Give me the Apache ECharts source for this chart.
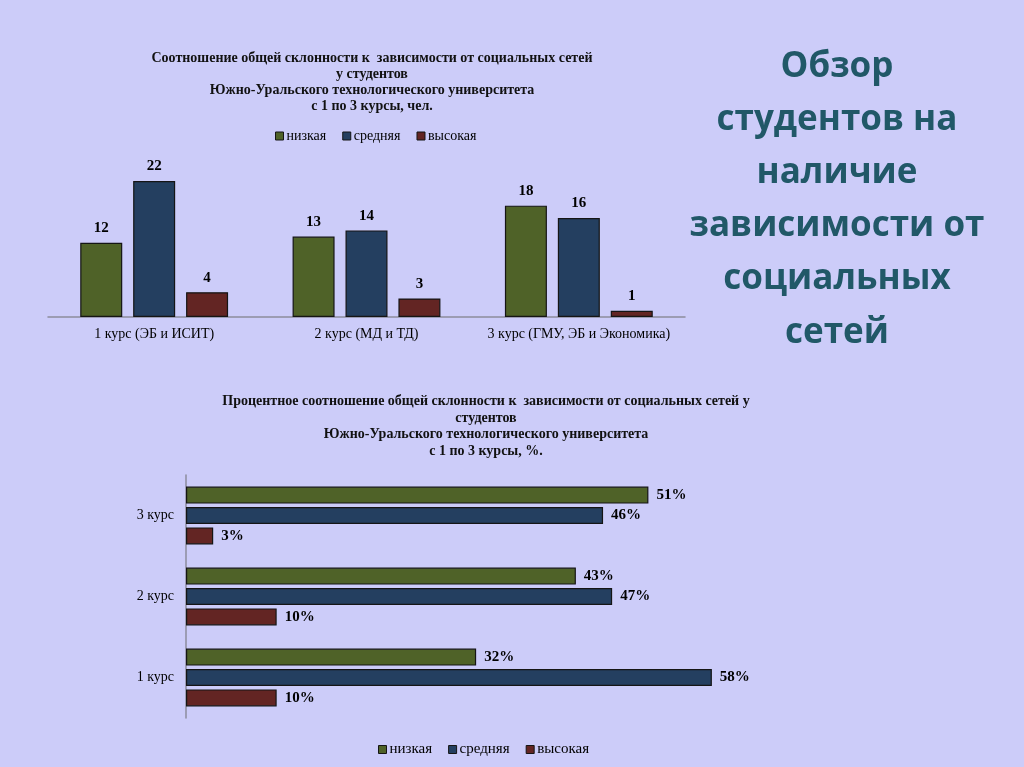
<!DOCTYPE html>
<html>
<head>
<meta charset="utf-8">
<script src="https://cdn.jsdelivr.net/npm/echarts@6/dist/echarts.min.js"></script>
<style>
html,body{margin:0;padding:0;background:#ccccf9;}
#main{width:1024px;height:767px;}
</style>
</head>
<body>
<div id="main"></div>
<script>
// ---- data ----
const seriesNames = ['низкая', 'средняя', 'высокая'];
const groupCategories = ['1 курс (ЭБ и ИСИТ)', '2 курс (МД и ТД)', '3 курс (ГМУ, ЭБ и Экономика)'];
const countLow = [12, 13, 18];
const countMid = [22, 14, 16];
const countHigh = [4, 3, 1];
const courseCategories = ['1 курс', '2 курс', '3 курс'];
const pctLow = [32, 43, 51];
const pctMid = [58, 47, 46];
const pctHigh = [10, 10, 3];
const topTitle = 'Соотношение общей склонности к  зависимости от социальных сетей\nу студентов\nЮжно-Уральского технологического университета\nс 1 по 3 курсы, чел.';
const bottomTitle = 'Процентное соотношение общей склонности к  зависимости от социальных сетей у\nстудентов\nЮжно-Уральского технологического университета\nс 1 по 3 курсы, %.';
const sideTitle = 'Обзор\nстудентов на\nналичие\nзависимости от\nсоциальных\nсетей';

const colors = ['#4f6228', '#243f60', '#632523'];
const serif = '"Liberation Serif", "Times New Roman", serif';

const chart = echarts.init(document.getElementById('main'));

function barStyle(i) {
  return { color: colors[i], borderColor: '#151515', borderWidth: 1.2 };
}

const topSeries = [countLow, countMid, countHigh].map((d, i) => ({
  name: seriesNames[i], type: 'bar', xAxisIndex: 0, yAxisIndex: 0,
  data: d, barWidth: 42, barGap: '26%',
  itemStyle: barStyle(i),
  label: { show: true, position: 'top', distance: 7, fontFamily: serif, fontWeight: 'bold', fontSize: 15, color: '#000' }
}));
const botSeries = [pctLow, pctMid, pctHigh].map((d, i) => ({
  name: seriesNames[i], type: 'bar', xAxisIndex: 1, yAxisIndex: 1,
  data: d, barWidth: 17, barGap: '20%',
  itemStyle: barStyle(i),
  label: { show: true, position: 'right', distance: 8, formatter: '{c}%', fontFamily: serif, fontWeight: 'bold', fontSize: 15, color: '#000' }
}));

chart.setOption({
  backgroundColor: '#ccccf9',
  animation: false,
  title: [
    { text: topTitle, left: 367, top: 45, textAlign: 'center',
      textStyle: { fontFamily: serif, fontWeight: 'bold', fontSize: 14, lineHeight: 16, color: '#111', align: 'center' } },
    { text: bottomTitle, left: 481, top: 388, textAlign: 'center',
      textStyle: { fontFamily: serif, fontWeight: 'bold', fontSize: 14, lineHeight: 16.7, color: '#111', align: 'center' } },
    { text: sideTitle, left: 832, top: 35, textAlign: 'center',
      textStyle: { fontFamily: '"Open Sans", "Noto Sans", sans-serif', fontWeight: 'bold', fontSize: 35, lineHeight: 53.2, color: '#215868', align: 'center' } }
  ],
  legend: [
    { data: seriesNames, top: 124, left: 270, itemWidth: 8, itemHeight: 8, itemGap: 16, icon: 'rect',
      itemStyle: { borderColor: '#151515', borderWidth: 1 },
      textStyle: { fontFamily: serif, fontSize: 14, color: '#000', padding: [0, 0, 0, -2] } },
    { data: seriesNames, top: 737, left: 373, itemWidth: 8, itemHeight: 8, itemGap: 16, icon: 'rect',
      itemStyle: { borderColor: '#151515', borderWidth: 1 },
      textStyle: { fontFamily: serif, fontSize: 15, color: '#000', padding: [0, 0, 0, -2] } }
  ],
  grid: [
    { left: 48, right: 339, top: 150, bottom: 450 },
    { left: 186, width: 544, top: 475, height: 243 }
  ],
  xAxis: [
    { type: 'category', gridIndex: 0, data: groupCategories,
      axisLine: { lineStyle: { color: '#8c8c9c', width: 1.5 } }, axisTick: { show: false },
      axisLabel: { interval: 0, hideOverlap: false, fontFamily: serif, fontSize: 14, color: '#000', margin: 10 } },
    { type: 'value', gridIndex: 1, min: 0, max: 60, show: false, splitLine: { show: false } }
  ],
  yAxis: [
    { type: 'value', gridIndex: 0, min: 0, max: 27, show: false, splitLine: { show: false } },
    { type: 'category', gridIndex: 1, data: courseCategories,
      axisLine: { lineStyle: { color: '#8c8c9c', width: 1.5 } }, axisTick: { show: false },
      axisLabel: { interval: 0, fontFamily: serif, fontSize: 14, color: '#000', margin: 12 } }
  ],
  series: topSeries.concat(botSeries)
});
</script>
</body>
</html>
